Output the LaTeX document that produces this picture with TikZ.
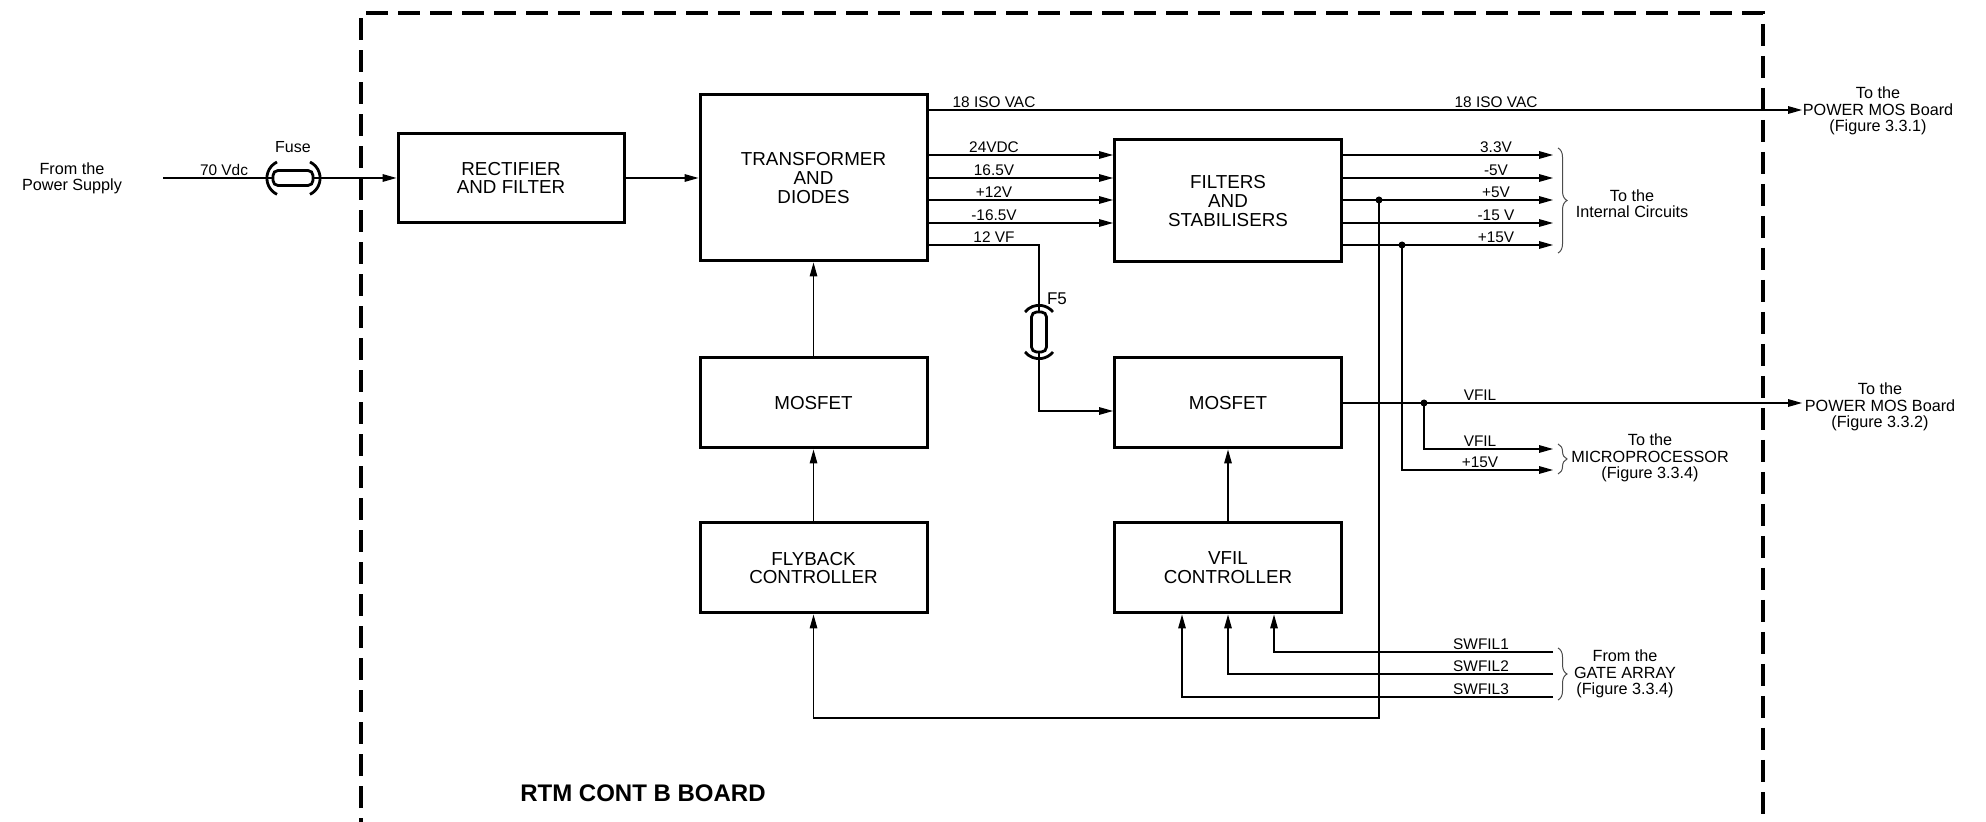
\documentclass[tikz,border=0pt]{standalone}
\usepackage{fontspec}
\setmainfont{Liberation Sans}
\usetikzlibrary{arrows.meta, decorations.pathreplacing}

\begin{document}
\begin{tikzpicture}[x=0.5pt, y=-0.5pt,
    block/.style={draw, line width=1.5pt, minimum width=113.5pt, inner sep=0pt,
        align=center, font=\fontsize{9.4}{9.4}\selectfont},
    sig/.style={line width=0.6pt},
    arr/.style={sig, -{Triangle[length=7pt, width=3.8pt]}},
    lbl/.style={font=\fontsize{7.7}{8}\selectfont, anchor=south, inner sep=1pt},
    note/.style={font=\fontsize{8.1}{8.1}\selectfont, align=center, inner sep=0pt},
    fusebody/.style={draw, line width=1.4pt, rounded corners=2.5pt, fill=white},
    fusearc/.style={line width=1.4pt},
    grp/.style={decorate, decoration={brace, amplitude=4.5pt}, line width=0.5pt, black!70}]

    \useasboundingbox (0,0) rectangle (1986,822);

    % Draw board outline (open at the bottom)
    \draw[line width=1.65pt, dash pattern=on 11pt off 5pt] (361,840) -- (361,13) -- (1763,13) -- (1763,840);
    \node[font=\bfseries\fontsize{12}{14}\selectfont] (board) at (643,793) {RTM CONT B BOARD};

    % Draw blocks
    \node[block, minimum width=113pt, minimum height=44.5pt] (rect) at (511,178) {RECTIFIER\\AND FILTER};
    \node[block, minimum height=83pt] (trans) at (813.5,178) {TRANSFORMER\\AND\\DIODES};
    \node[block, minimum height=61pt] (filt) at (1228,201) {FILTERS\\AND\\STABILISERS};
    \node[block, minimum height=45pt] (mos1) at (813.5,403) {MOSFET};
    \node[block, minimum height=45pt] (mos2) at (1228,403) {MOSFET};
    \node[block, minimum height=45pt] (fly) at (813.5,568) {FLYBACK\\CONTROLLER};
    \node[block, minimum height=45pt] (vfc) at (1228,568) {VFIL\\CONTROLLER};

    % Input from the power supply through the fuse
    \node[note] (psu) at (72,178) {From the\\Power Supply};
    \coordinate (pin) at (163,178);
    \draw[sig] (pin) -- (293,178);
    \node[fusebody, minimum width=20pt, minimum height=7.5pt] (fuse1) at (293,178) {};
    \draw[fusearc] (277,162) arc[start angle=244, end angle=116, radius=18];
    \draw[fusearc] (310,162) arc[start angle=-64, end angle=64, radius=18];
    \node[font=\fontsize{8}{8}\selectfont] (fuseLbl) at (293,147) {Fuse};
    \node[lbl] (vdc) at (224,178) {70 Vdc};
    \draw[arr] (fuse1.east) -- (rect.west);
    \draw[arr] (rect) -- (trans);

    % Transformer outputs
    \coordinate (pm1) at (1802,110);
    \draw[arr] (trans.east |- pm1) -- (pm1);
    \node[lbl] (iso1) at (994,110) {18 ISO VAC};
    \node[lbl] (iso2) at (1496,110) {18 ISO VAC};
    \node[note] (pmosA) at (1878,111) {To the\\POWER MOS Board\\(Figure 3.3.1)};

    \foreach \y/\txt in {155/24VDC, 178/16.5V, 200/+12V, 223/-16.5V} {
        \draw[arr] (trans.east |- 0,\y) -- (filt.west |- 0,\y);
        \node[lbl] (tv\y) at (994,\y) {\txt};
    }

    % 12 VF through F5 to the second MOSFET
    \node[lbl] (tv245) at (994,245) {12 VF};
    \draw[sig] (trans.east |- 0,245) -| (1039,312);
    \node[fusebody, minimum width=7.5pt, minimum height=20pt] (fuse2) at (1039,332) {};
    \draw[fusearc] (1025,312) arc[start angle=219, end angle=321, radius=18];
    \draw[fusearc] (1025,352) arc[start angle=141, end angle=39, radius=18];
    \node[font=\fontsize{8.5}{9}\selectfont] (f5) at (1057,299) {F5};
    \draw[arr] (fuse2.south) |- ([yshift=-4pt]mos2.west);

    % Filter outputs to the internal circuits
    \foreach \y/\txt in {155/3.3V, 178/-5V, 200/+5V, 223/-15 V, 245/+15V} {
        \coordinate (ic\y) at (1553,\y);
        \draw[arr] (filt.east |- ic\y) -- (ic\y);
        \node[lbl] (fv\y) at (1496,\y) {\txt};
    }
    \draw[grp] (1558,148) -- (1558,253);
    \node[note] (intc) at (1632,204) {To the\\Internal Circuits};

    % Junctions on +5V and +15V
    \coordinate (j5) at (1379,200);
    \coordinate (j15) at (1402,245);
    \fill (j5) circle[radius=3.5];
    \fill (j15) circle[radius=3.5];

    % VFIL output
    \coordinate (pm2) at (1802,403);
    \draw[arr] (mos2.east) -- (pm2);
    \node[lbl] (vf1) at (1480,403) {VFIL};
    \node[note] (pmosB) at (1880,407) {To the\\POWER MOS Board\\(Figure 3.3.2)};
    \coordinate (jv) at (1424,403);
    \fill (jv) circle[radius=3.5];

    % Feeds to the microprocessor
    \coordinate (mp1) at (1553,449);
    \coordinate (mp2) at (1553,470);
    \draw[arr] (jv) |- (mp1);
    \draw[arr] (j15) |- (mp2);
    \node[lbl] (vf2) at (1480,449) {VFIL};
    \node[lbl] (p15) at (1480,470) {+15V};
    \draw[grp] (1558,444) -- (1558,474);
    \node[note] (micro) at (1650,458) {To the\\MICROPROCESSOR\\(Figure 3.3.4)};

    % +5V loop down to the flyback controller
    \coordinate (lp) at (1379,718);
    \draw[arr] (j5) -- (lp) -| (fly.south);

    % Arrows between blocks
    \draw[arr] (mos1) -- (trans);
    \draw[arr] (fly) -- (mos1);
    \draw[arr] (vfc) -- (mos2);

    % Gate array inputs
    \foreach \y/\dx/\txt in {652/23pt/SWFIL1, 674/0pt/SWFIL2, 697/-23pt/SWFIL3} {
        \coordinate (ga\y) at (1553,\y);
        \draw[arr] (ga\y) -| ([xshift=\dx]vfc.south);
        \node[lbl] (sw\y) at (1481,\y) {\txt};
    }
    \draw[grp] (1558,648) -- (1558,700);
    \node[note] (gate) at (1625,674) {From the\\GATE ARRAY\\(Figure 3.3.4)};

\end{tikzpicture}
\end{document}
